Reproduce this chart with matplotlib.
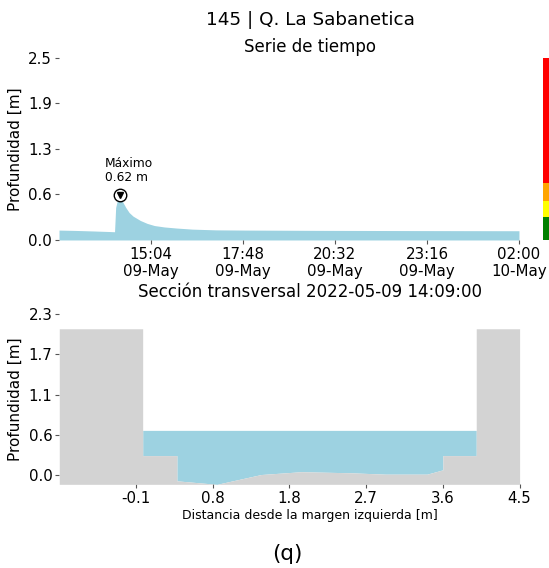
import datetime as dt
import numpy as np
import matplotlib
matplotlib.use('Agg')
import matplotlib.pyplot as plt

# time series (depth in m)
ts_times = ['12:20', '12:50', '13:20', '13:50', '13:59', '14:01', '14:04', '14:09',
            '14:14', '14:19', '14:25', '14:32', '14:45', '14:57', '15:10', '15:28',
            '15:50', '16:18', '17:00', '17:52', '20:00', '23:00', '02:00']
ts_depth = [0.137, 0.132, 0.125, 0.117, 0.114, 0.45, 0.55, 0.62,
            0.52, 0.45, 0.38, 0.33, 0.27, 0.23, 0.20, 0.18,
            0.165, 0.15, 0.14, 0.137, 0.133, 0.130, 0.128]
peak_time = '14:09'
peak_depth = 0.62
alert_levels = [0.32, 0.54, 0.79, 2.52]
alert_colors = ['green', 'yellow', 'orange', 'red']
top_ticks = [0, 0.63, 1.26, 1.89, 2.52]
top_ticklabels = ['0.0', '0.6', '1.3', '1.9', '2.5']

# cross section
ground_x = [-1.0, 0.0, 0.0, 0.41, 0.41, 0.89, 1.42, 1.90, 2.49, 2.91, 3.41, 3.60, 3.60, 4.0, 4.0, 4.52]
ground_y = [2.09, 2.09, 0.28, 0.28, -0.08, -0.13, 0.01, 0.05, 0.035, 0.015, 0.015, 0.077, 0.28, 0.28, 2.09, 2.09]
water_level = 0.64
sec_xticks = [-0.08, 0.84, 1.76, 2.68, 3.6, 4.52]
sec_xticklabels = ['-0.1', '0.8', '1.8', '2.7', '3.6', '4.5']
sec_yticks = [0, 0.575, 1.15, 1.725, 2.3]
sec_yticklabels = ['0.0', '0.6', '1.1', '1.7', '2.3']

blue = '#9dd2e1'
gray = '#d3d3d3'


def to_dt(s):
    h, m = map(int, s.split(':'))
    day = 9 if h >= 12 else 10
    return dt.datetime(2022, 5, day, h, m)


t = [to_dt(s) for s in ts_times]
t0 = t[0]

fig = plt.figure(figsize=(5.49, 5.68), dpi=100)
fig.text(0.565, 0.965, '145 | Q. La Sabanetica', ha='center', va='center', fontsize=13.2)

ax = fig.add_axes([0.1075, 0.5775, 0.9144, 0.3204])
ax.fill_between(t, 0, ts_depth, color=blue, lw=0)
pt = to_dt(peak_time)
ax.plot(pt, peak_depth, 'o', ms=9, mfc='white', mec='black', mew=1, zorder=5)
ax.plot(pt, peak_depth, 'v', ms=4.5, color='black', zorder=6)
ax.text(pt - dt.timedelta(minutes=27), peak_depth + 0.16, 'Máximo\n0.62 m',
        ha='left', va='bottom', fontsize=8.8, linespacing=1.05)

# alert colour bar on the right
bar_left = t0 + dt.timedelta(minutes=862)
bar_w = dt.timedelta(minutes=40)
prev = 0
for lvl, c in zip(alert_levels, alert_colors):
    ax.bar(bar_left, lvl - prev, bottom=prev, width=bar_w, align='edge', color=c, lw=0)
    prev = lvl

ax.set_xlim(t0, t0 + dt.timedelta(minutes=895))
ax.set_ylim(0, 2.52)
xt = [t0 + dt.timedelta(minutes=164 * k) for k in range(1, 6)]
ax.set_xticks(xt)
ax.set_xticklabels([x.strftime('%H:%M\n%d-%b') for x in xt])
ax.set_yticks(top_ticks)
ax.set_yticklabels(top_ticklabels)
ax.set_ylabel('Profundidad [m]', fontsize=11)
ax.set_title('Serie de tiempo', fontsize=12, pad=4)

ax2 = fig.add_axes([0.108, 0.1473, 0.9144, 0.2998])
gx = np.array(ground_x)
gy = np.array(ground_y)
ax2.fill_between(gx, gy, np.maximum(gy, water_level), color=blue, lw=0, zorder=1)
ax2.fill_between(gx, -0.13, gy, color=gray, lw=0, zorder=2)
ax2.set_xlim(-1.0, 5.02)
ax2.set_ylim(-0.13, 2.3)
ax2.set_xticks(sec_xticks)
ax2.set_xticklabels(sec_xticklabels)
ax2.set_yticks(sec_yticks)
ax2.set_yticklabels(sec_yticklabels)
ax2.set_ylabel('Profundidad [m]', fontsize=11)
ax2.set_xlabel('Distancia desde la margen izquierda [m]', fontsize=9, labelpad=2)
ax2.set_title('Sección transversal 2022-05-09 14:09:00', fontsize=12, pad=12)

for a in (ax, ax2):
    for s in a.spines.values():
        s.set_visible(False)
    a.tick_params(length=3, width=0.8, color='#555555', labelsize=10.8, pad=2)

fig.text(0.523, 0.025, '(q)', ha='center', va='center', fontsize=15.5)

fig.savefig('out.png', dpi=100)
